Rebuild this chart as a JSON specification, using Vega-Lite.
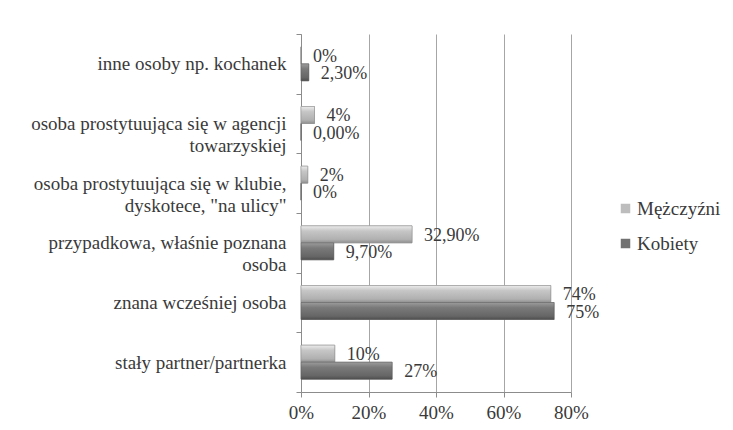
{
  "$schema": "https://vega.github.io/schema/vega-lite/v6.json",
  "width": 270,
  "height": 358,
  "autosize": {"type": "none"},
  "padding": {"left": 301, "top": 34, "right": 162, "bottom": 38},
  "background": "white",
  "config": {
    "view": {"stroke": null},
    "axis": {"labelFont": "Liberation Serif"},
    "legend": {"labelFont": "Liberation Serif"},
    "text": {"font": "Liberation Serif"}
  },
  "data": {
    "values": [
      {"kategoria": "inne osoby np. kochanek", "plec": "Mężczyźni", "wartosc": 0, "etykieta": "0%"},
      {"kategoria": "inne osoby np. kochanek", "plec": "Kobiety", "wartosc": 2.3, "etykieta": "2,30%"},
      {"kategoria": "osoba prostytuująca się w agencji|towarzyskiej", "plec": "Mężczyźni", "wartosc": 4, "etykieta": "4%"},
      {"kategoria": "osoba prostytuująca się w agencji|towarzyskiej", "plec": "Kobiety", "wartosc": 0, "etykieta": "0,00%"},
      {"kategoria": "osoba prostytuująca się w klubie,|dyskotece, \"na ulicy\"", "plec": "Mężczyźni", "wartosc": 2, "etykieta": "2%"},
      {"kategoria": "osoba prostytuująca się w klubie,|dyskotece, \"na ulicy\"", "plec": "Kobiety", "wartosc": 0, "etykieta": "0%"},
      {"kategoria": "przypadkowa, właśnie poznana|osoba", "plec": "Mężczyźni", "wartosc": 32.9, "etykieta": "32,90%"},
      {"kategoria": "przypadkowa, właśnie poznana|osoba", "plec": "Kobiety", "wartosc": 9.7, "etykieta": "9,70%"},
      {"kategoria": "znana wcześniej osoba", "plec": "Mężczyźni", "wartosc": 74, "etykieta": "74%"},
      {"kategoria": "znana wcześniej osoba", "plec": "Kobiety", "wartosc": 75, "etykieta": "75%"},
      {"kategoria": "stały partner/partnerka", "plec": "Mężczyźni", "wartosc": 10, "etykieta": "10%"},
      {"kategoria": "stały partner/partnerka", "plec": "Kobiety", "wartosc": 27, "etykieta": "27%"}
    ]
  },
  "encoding": {
    "y": {
      "field": "kategoria",
      "type": "nominal",
      "sort": null,
      "scale": {"paddingInner": 0, "paddingOuter": 0},
      "axis": {
        "title": null,
        "labelExpr": "split(datum.label, '|')",
        "labelFont": "Liberation Serif",
        "labelFontSize": 19,
        "labelColor": "#3a3a3a",
        "labelLineHeight": 22,
        "labelLimit": 400,
        "labelPadding": 10,
        "labelBaseline": "bottom",
        "labelOffset": 10,
        "tickBand": "extent",
        "tickSize": 5,
        "tickColor": "#8c8c8c",
        "domainColor": "#8c8c8c",
        "grid": false
      }
    },
    "yOffset": {
      "field": "plec",
      "type": "nominal",
      "sort": ["Mężczyźni", "Kobiety"],
      "scale": {"domain": ["Mężczyźni", "Kobiety"], "paddingInner": 0, "paddingOuter": 0.754}
    },
    "x": {
      "field": "wartosc",
      "type": "quantitative",
      "scale": {"domain": [0, 80], "nice": false},
      "axis": {
        "title": null,
        "values": [0, 20, 40, 60, 80],
        "labelExpr": "datum.value + '%'",
        "labelFont": "Liberation Serif",
        "labelFontSize": 19,
        "labelColor": "#3a3a3a",
        "labelPadding": 6,
        "labelFlush": false,
        "labelOverlap": false,
        "tickSize": 5,
        "tickColor": "#8c8c8c",
        "domainColor": "#8c8c8c",
        "grid": true,
        "gridColor": "#a6a6a6"
      }
    }
  },
  "layer": [
    {
      "mark": {"type": "bar", "stroke": "#8a8a8a", "strokeWidth": 0.5},
      "encoding": {
        "color": {
          "field": "plec",
          "type": "nominal",
          "scale": {
            "domain": ["Mężczyźni", "Kobiety"],
            "range": ["#bdbdbd", "#717171"]
          },
          "legend": {
            "title": null,
            "orient": "none",
            "legendX": 315,
            "legendY": 165,
            "symbolType": "square",
            "symbolSize": 90,
            "symbolStrokeWidth": 0,
            "labelFont": "Liberation Serif",
            "labelFontSize": 19,
            "labelColor": "#3a3a3a",
            "labelOffset": 2,
            "rowPadding": 15
          }
        }
      }
    },
    {
      "transform": [{"filter": "datum.plec === 'Mężczyźni'"}],
      "mark": {
        "type": "bar",
        "stroke": "#8a8a8a",
        "strokeWidth": 0.5,
        "fill": {"gradient": "linear", "x1": 0, "y1": 0, "x2": 0, "y2": 1, "stops": [{"offset": 0, "color": "#ececec"}, {"offset": 0.3, "color": "#c6c6c6"}, {"offset": 0.8, "color": "#b0b0b0"}, {"offset": 1, "color": "#8f8f8f"}]}
      }
    },
    {
      "transform": [{"filter": "datum.plec === 'Kobiety'"}],
      "mark": {
        "type": "bar",
        "stroke": "#5a5a5a",
        "strokeWidth": 0.5,
        "fill": {"gradient": "linear", "x1": 0, "y1": 0, "x2": 0, "y2": 1, "stops": [{"offset": 0, "color": "#9c9c9c"}, {"offset": 0.3, "color": "#7a7a7a"}, {"offset": 0.8, "color": "#666666"}, {"offset": 1, "color": "#4e4e4e"}]}
      }
    },
    {
      "mark": {"type": "text", "align": "left", "baseline": "middle", "dx": 12, "dy": 1.5, "font": "Liberation Serif", "fontSize": 18, "color": "#3a3a3a"},
      "encoding": {
        "text": {"field": "etykieta", "type": "nominal"}
      }
    }
  ]
}
